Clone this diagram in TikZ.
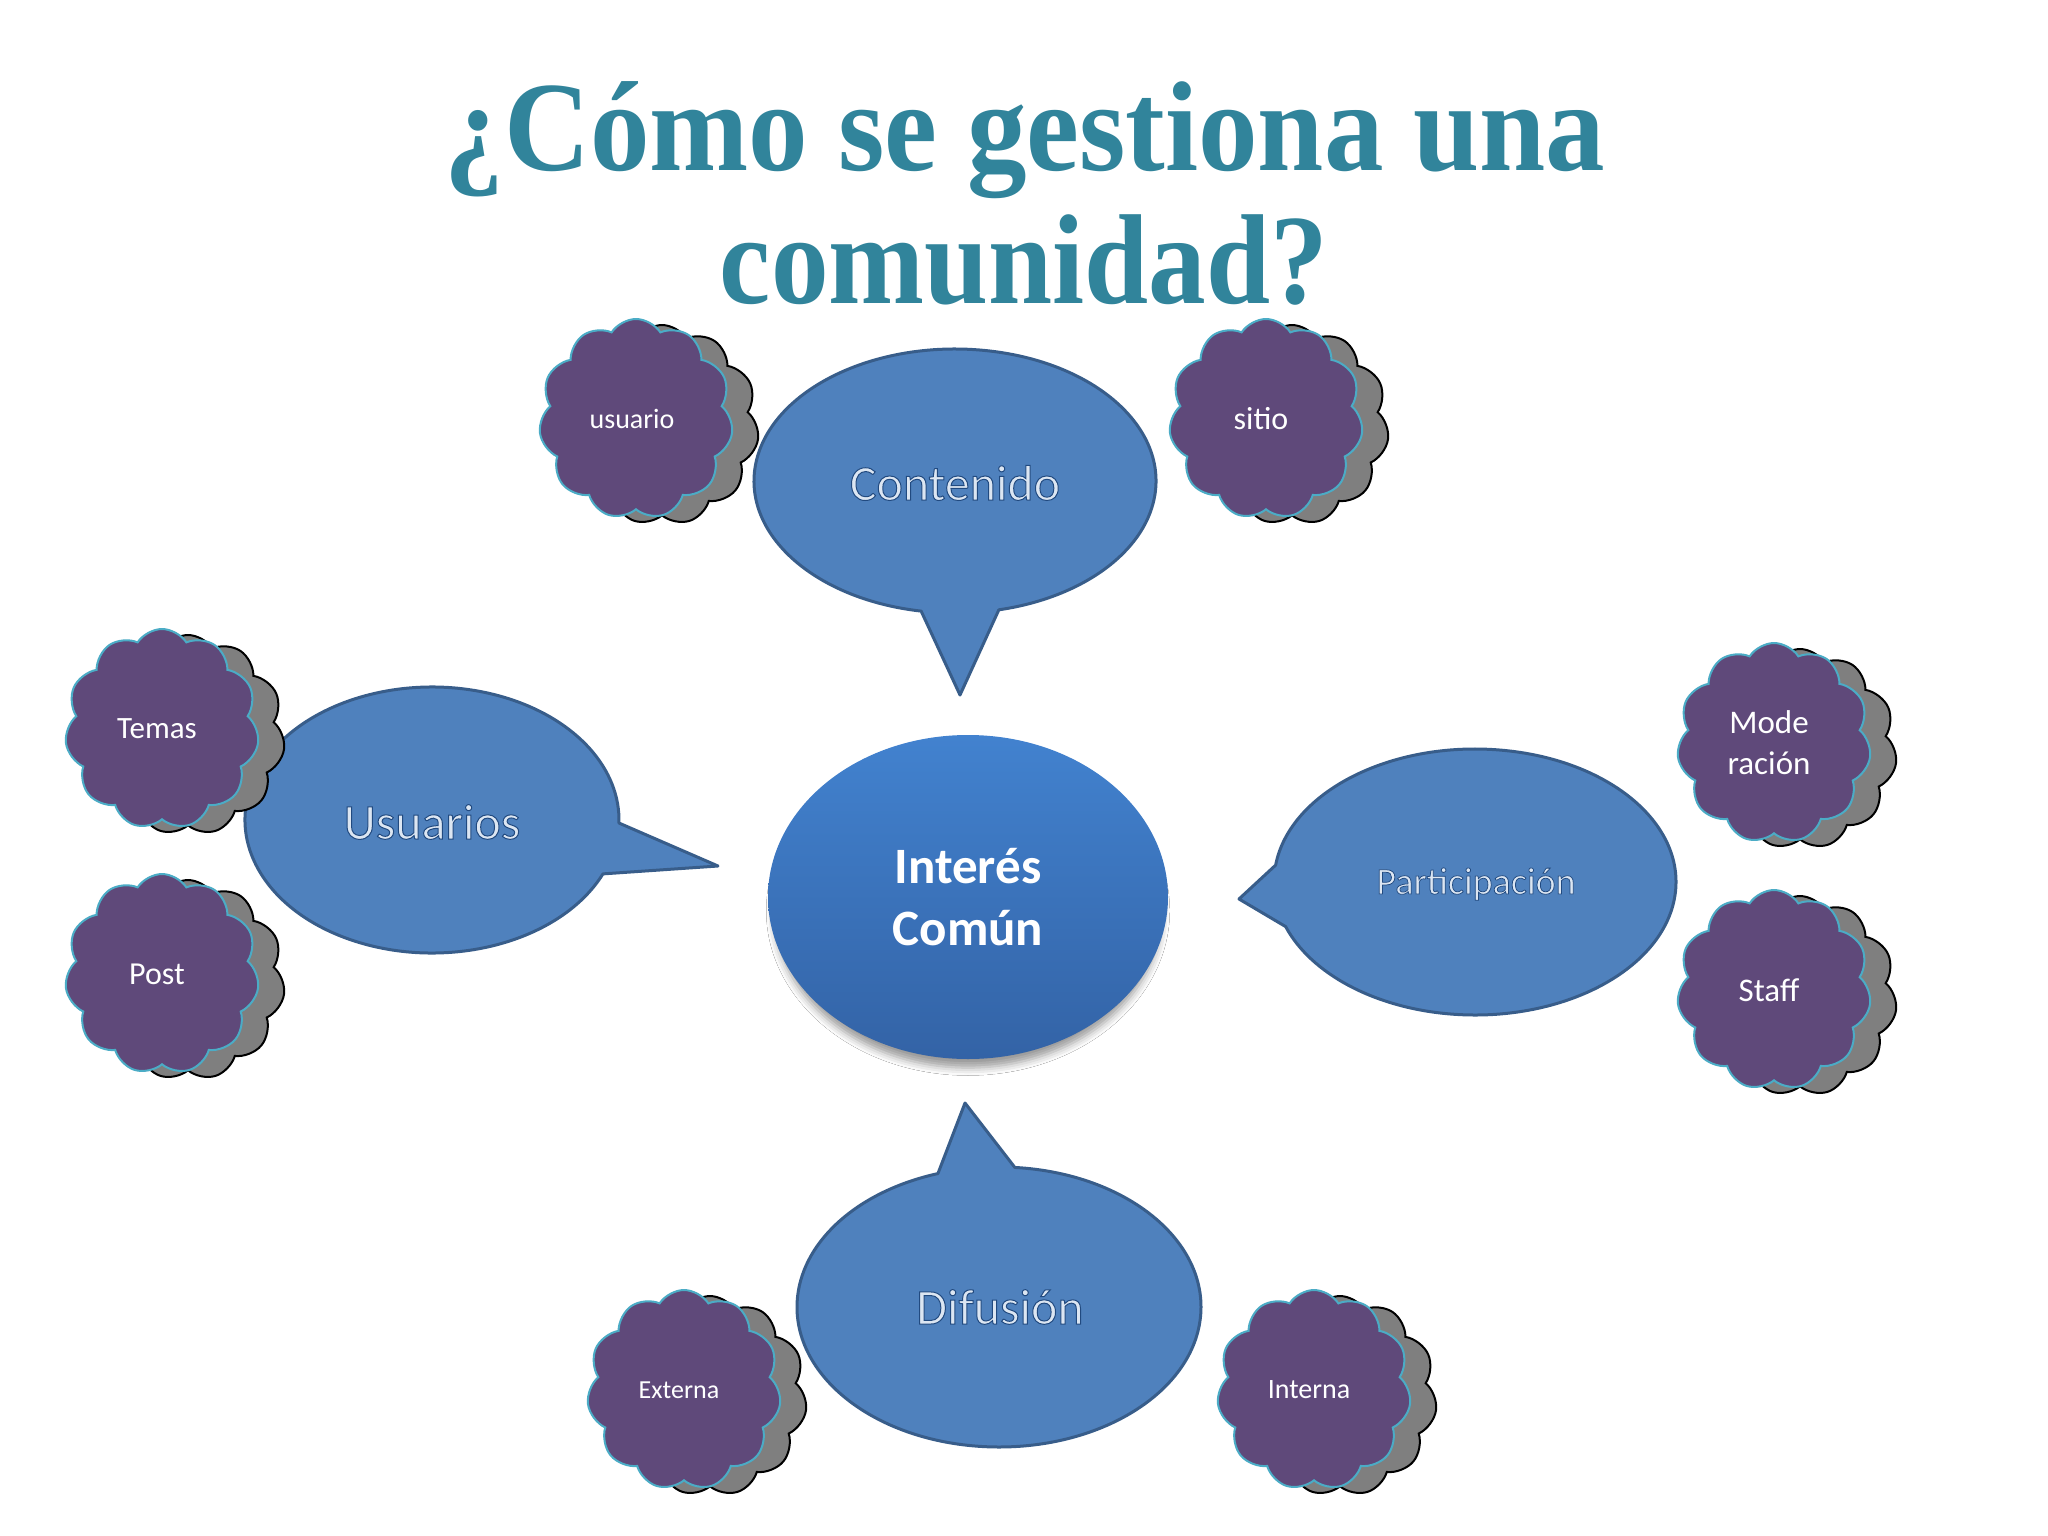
\documentclass[tikz,border=0pt]{standalone}
\usepackage{fontspec}
\setmainfont{Carlito}
\newfontfamily\titlefont{Liberation Serif}
\newfontfamily\bubfont[FakeBold=2]{Carlito}
\usetikzlibrary{shapes.symbols,shapes.geometric,shadows,shadows.blur,calc}
\definecolor{titleteal}{HTML}{31849B}
\definecolor{bubfill}{HTML}{4F81BD}
\definecolor{bubline}{HTML}{385D8A}
\definecolor{bubtxt}{HTML}{DCE6F2}
\definecolor{cloudfill}{HTML}{5F497A}
\definecolor{cloudline}{HTML}{4BACC6}
\definecolor{shadowgray}{HTML}{7F7F7F}
\definecolor{ctop}{HTML}{4282CF}
\definecolor{cbot}{HTML}{3363A6}
% light fill, dark blue outline for callout text
\newcommand\bubout[1]{\special{pdf:bcolor [0.863 0.902 0.949] [0.13 0.29 0.50]}#1\special{pdf:ecolor}}
\tikzset{
  bubble/.style={fill=bubfill, draw=bubline, line width=3pt, line join=round},
  bubtext/.style={text=bubtxt, font=\bubfont\fontsize{50}{58}\selectfont, inner sep=0pt},
  cloudbox/.style={cloud, cloud puffs=11, cloud puff arc=115, aspect=1,
    minimum width=194pt, minimum height=200pt, fill=cloudfill, draw=cloudline,
    line width=2pt, text=white, align=center, inner sep=0pt,
    copy shadow={shadow xshift=26pt, shadow yshift=-6pt, fill=shadowgray, draw=black, line width=2pt}},
  titletext/.style={text=titleteal, font=\titlefont\bfseries\fontsize{128}{150}\selectfont, anchor=base, inner sep=0pt},
}
\begin{document}
\begin{tikzpicture}[x=1pt,y=-1pt]
\useasboundingbox (0,0) rectangle (2048,1536);
\fill[white] (0,0) rectangle (2048,1536);

% title
\node[titletext] (t1) at (1025,170) {\scalebox{0.93}[1]{¿Cómo se gestiona una}};
\node[titletext] (t2) at (1024,303) {\scalebox{0.9}[1]{comunidad?}};

% speech bubbles
\coordinate (cC) at (955,481);
\coordinate (tipC) at (960,695);
\draw[bubble] (cC) ++(77.4:201 and 132) -- (tipC) -- ($(cC)+(99.7:201 and 132)$)
  arc[start angle=99.7, end angle=437.4, x radius=201, y radius=132] -- cycle;
\node[bubtext] (lC) at (955,483) {\bubout{Contenido}};

\coordinate (cU) at (432,820);
\coordinate (tipU) at (718,866);
\draw[bubble] (cU) ++(1.3:187 and 133) -- (tipU) -- ($(cU)+(23.9:187 and 133)$)
  arc[start angle=23.9, end angle=361.3, x radius=187, y radius=133] -- cycle;
\node[bubtext] (lU) at (432,822) {\bubout{Usuarios}};

\coordinate (cP) at (1475,882);
\coordinate (tipP) at (1239,899);
\draw[bubble] (cP) ++(160.4:201 and 133) -- (tipP) -- ($(cP)+(187.3:201 and 133)$)
  arc[start angle=187.3, end angle=520.4, x radius=201, y radius=133] -- cycle;
\node[bubtext, font=\bubfont\fontsize{38}{46}\selectfont] (lP) at (1476,884) {\bubout{Participación}};

\coordinate (cD) at (999,1307);
\coordinate (tipD) at (965,1103);
\draw[bubble] (cD) ++(252.4:202 and 140) -- (tipD) -- ($(cD)+(274.5:202 and 140)$)
  arc[start angle=274.5, end angle=612.4, x radius=202, y radius=140] -- cycle;
\node[bubtext] (lD) at (1000,1307) {\bubout{Difusión}};

% centre
\node[ellipse, minimum width=400pt, minimum height=324pt, top color=ctop, bottom color=cbot,
  blur shadow={shadow xshift=0pt, shadow yshift=-14pt, shadow blur radius=8pt, shadow scale=0.97},
  align=center, text=white, font=\bfseries\fontsize{51}{62}\selectfont] (ci) at (968,897)
  {Interés\\Común};

% clouds
\node[cloudbox, font=\fontsize{28}{34}\selectfont] (k1) at (636,419) {usuario\hspace*{8pt}};
\node[cloudbox, font=\fontsize{32}{38}\selectfont] (k2) at (1266,419) {sitio\hspace*{10pt}};
\node[cloudbox, font=\fontsize{31}{37}\selectfont] (k3) at (162,729) {Temas\hspace*{10pt}};
\node[cloudbox, font=\fontsize{32}{38}\selectfont] (k4) at (162,974) {Post\hspace*{10pt}};
\node[cloudbox, font=\fontsize{33}{41}\selectfont] (k5) at (1774,743) {Mode\hspace*{10pt}\\ración\hspace*{10pt}};
\node[cloudbox, font=\fontsize{33}{39}\selectfont] (k6) at (1774,990) {Staff\hspace*{10pt}};
\node[cloudbox, font=\fontsize{26}{32}\selectfont] (k7) at (684,1390) {Externa\hspace*{10pt}};
\node[cloudbox, font=\fontsize{28}{34}\selectfont] (k8) at (1314,1390) {Interna\hspace*{10pt}};
\end{tikzpicture}
\end{document}
